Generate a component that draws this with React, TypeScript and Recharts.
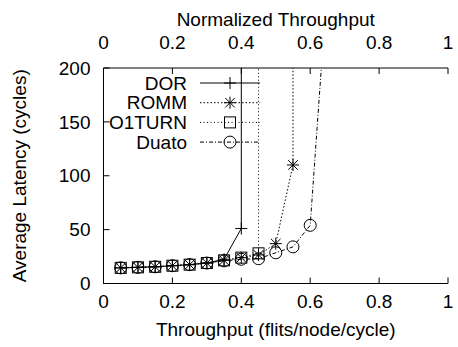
import { ComposedChart, Line, XAxis, YAxis, Legend, Label } from "recharts";

// offered load (flits/node/cycle) and average latency per routing algorithm;
// the last point of each series is the saturation point above the plotted range
const dorLoad = [0.05, 0.1, 0.15, 0.2, 0.25, 0.3, 0.35, 0.4, 0.4];
const dorLatency = [14.5, 15, 15.5, 16.5, 17.5, 19, 22.5, 51, 1000];

const rommLoad = [0.05, 0.1, 0.15, 0.2, 0.25, 0.3, 0.35, 0.4, 0.45, 0.5, 0.55, 0.55];
const rommLatency = [14.5, 15, 15.5, 16.5, 17.5, 19, 21.5, 24, 26.5, 37, 110, 1000];

const o1turnLoad = [0.05, 0.1, 0.15, 0.2, 0.25, 0.3, 0.35, 0.4, 0.45, 0.45];
const o1turnLatency = [14.5, 15, 15.5, 16.5, 17.5, 19, 21.5, 24, 28, 1000];

const duatoLoad = [0.05, 0.1, 0.15, 0.2, 0.25, 0.3, 0.35, 0.4, 0.45, 0.5, 0.55, 0.6, 0.65];
const duatoLatency = [14.5, 15, 15.5, 16.5, 17.5, 19, 21, 22.5, 23, 28.5, 34, 54, 280];

const xTicks = [0, 0.2, 0.4, 0.6, 0.8, 1];
const yTicks = [0, 50, 100, 150, 200];

const FONT = "'Liberation Sans', Arial, Helvetica, sans-serif";
const FS = 19;

type Kind = "plus" | "star" | "square" | "circle";

const zip = (xs: number[], ys: number[]) => xs.map((x, i) => ({ x, y: ys[i] }));

const series = [
  { name: "DOR", data: zip(dorLoad, dorLatency), kind: "plus" as Kind, dash: undefined },
  { name: "ROMM", data: zip(rommLoad, rommLatency), kind: "star" as Kind, dash: "1.5 2" },
  { name: "O1TURN", data: zip(o1turnLoad, o1turnLatency), kind: "square" as Kind, dash: "1 2.5" },
  { name: "Duato", data: zip(duatoLoad, duatoLatency), kind: "circle" as Kind, dash: "4 2 1 2" },
];

function Marker({ kind, cx, cy }: { kind: Kind; cx: number; cy: number }) {
  const s = 6;
  const st = { stroke: "#000", strokeWidth: 1, fill: "none" };
  if (kind === "plus") {
    return (
      <g {...st}>
        <line x1={cx - s} y1={cy} x2={cx + s} y2={cy} />
        <line x1={cx} y1={cy - s} x2={cx} y2={cy + s} />
      </g>
    );
  }
  if (kind === "star") {
    const d = s * 0.8;
    return (
      <g {...st}>
        <line x1={cx - s} y1={cy} x2={cx + s} y2={cy} />
        <line x1={cx} y1={cy - s} x2={cx} y2={cy + s} />
        <line x1={cx - d} y1={cy - d} x2={cx + d} y2={cy + d} />
        <line x1={cx - d} y1={cy + d} x2={cx + d} y2={cy - d} />
      </g>
    );
  }
  if (kind === "square") {
    return <rect x={cx - 5.5} y={cy - 5.5} width={11} height={11} {...st} />;
  }
  return <circle cx={cx} cy={cy} r={6} {...st} />;
}

function makeDot(kind: Kind) {
  return (p: any) => {
    if (p.cx == null || p.cy == null) return <g key={p.key} />;
    return (
      <g key={p.key}>
        <Marker kind={kind} cx={p.cx} cy={p.cy} />
      </g>
    );
  };
}

function KeyBox() {
  return (
    <svg width={458} height={347} style={{ position: "absolute", left: 0, top: 0, overflow: "visible" }}>
      {series.map((s, i) => {
        const y = 83 + i * 19.7;
        return (
          <g key={s.name}>
            <text x={187} y={y} textAnchor="end" dominantBaseline="central" fontSize={FS} fontFamily={FONT} fill="#000">
              {s.name}
            </text>
            <line x1={200} y1={y} x2={260} y2={y} stroke="#000" strokeWidth={1} strokeDasharray={s.dash} />
            <Marker kind={s.kind} cx={230} cy={y} />
          </g>
        );
      })}
    </svg>
  );
}

const tickStyle = { fill: "#000", fontSize: FS, fontFamily: FONT };

export default function App() {
  return (
    <div style={{ position: "absolute", left: 0, top: 0, background: "#fff" }}>
      <ComposedChart width={458} height={347} margin={{ top: 0, right: 10, bottom: 0, left: 0 }}>
        <XAxis
          xAxisId="bottom"
          type="number"
          dataKey="x"
          domain={[0, 1]}
          ticks={xTicks}
          allowDataOverflow
          orientation="bottom"
          height={63.5}
          stroke="#000"
          tick={tickStyle}
          tickSize={-6}
          tickMargin={17.5}
        >
          <Label
            content={({ viewBox }: any) => (
              <text
                x={viewBox.x + viewBox.width / 2}
                y={viewBox.y + 46}
                textAnchor="middle"
                dominantBaseline="central"
                fontSize={FS}
                fontFamily={FONT}
                fill="#000"
              >
                Throughput (flits/node/cycle)
              </text>
            )}
          />
        </XAxis>
        {/* secondary axis: load normalised to the network capacity */}
        <XAxis
          xAxisId="top"
          type="number"
          dataKey="x"
          domain={[0, 1]}
          ticks={xTicks}
          allowDataOverflow
          orientation="top"
          height={68}
          stroke="#000"
          tick={tickStyle}
          tickSize={-6}
          tickMargin={25}
        >
          <Label
            content={({ viewBox }: any) => (
              <text
                x={viewBox.x + viewBox.width / 2}
                y={viewBox.y + 19}
                textAnchor="middle"
                dominantBaseline="central"
                fontSize={FS}
                fontFamily={FONT}
                fill="#000"
              >
                Normalized Throughput
              </text>
            )}
          />
        </XAxis>
        <YAxis
          yAxisId="left"
          type="number"
          domain={[0, 200]}
          ticks={yTicks}
          allowDataOverflow
          width={103.5}
          stroke="#000"
          tick={tickStyle}
          tickSize={-6}
          tickMargin={19}
        >
          <Label
            content={({ viewBox }: any) => {
              const cx = viewBox.x + 19;
              const cy = viewBox.y + viewBox.height / 2;
              return (
                <text
                  x={cx}
                  y={cy}
                  transform={`rotate(-90 ${cx} ${cy})`}
                  textAnchor="middle"
                  dominantBaseline="central"
                  fontSize={FS}
                  fontFamily={FONT}
                  fill="#000"
                >
                  Average Latency (cycles)
                </text>
              );
            }}
          />
        </YAxis>
        <YAxis
          yAxisId="right"
          orientation="right"
          type="number"
          domain={[0, 200]}
          ticks={yTicks}
          allowDataOverflow
          width={0}
          stroke="#000"
          tick={false}
          tickSize={-6}
        />
        <Legend
          layout="horizontal"
          verticalAlign="middle"
          align="center"
          content={() => <KeyBox />}
          wrapperStyle={{ position: "absolute", left: 0, top: 0, width: 458, height: 347, pointerEvents: "none" }}
        />
        {series.map((s) => (
          <Line
            key={s.name}
            name={s.name}
            xAxisId="bottom"
            yAxisId="left"
            data={s.data}
            dataKey="y"
            type="linear"
            stroke="#000"
            strokeWidth={1}
            strokeDasharray={s.dash}
            dot={makeDot(s.kind)}
            activeDot={false}
            isAnimationActive={false}
          />
        ))}
      </ComposedChart>
    </div>
  );
}
